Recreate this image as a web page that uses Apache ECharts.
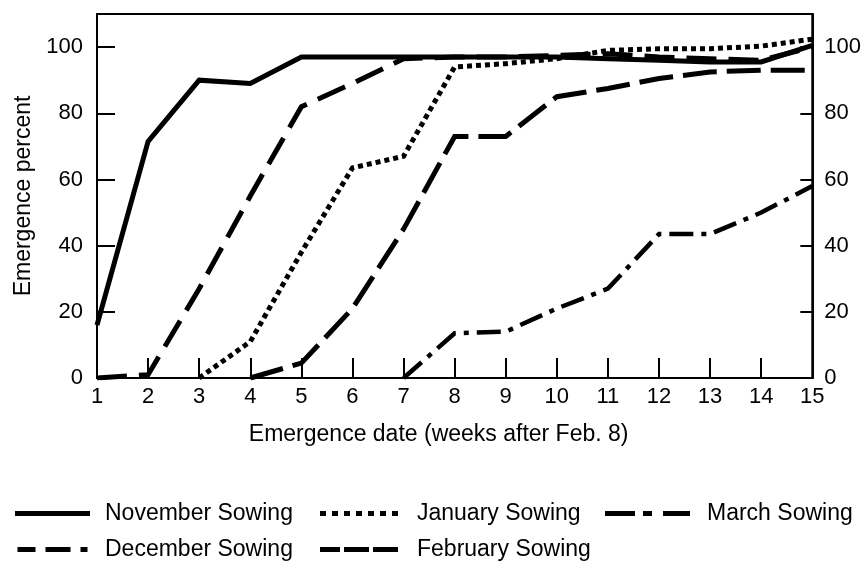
<!DOCTYPE html>
<html>
<head>
<meta charset="utf-8">
<script src="https://cdn.jsdelivr.net/npm/echarts@6/dist/echarts.min.js"></script>
<style>
html, body { margin: 0; padding: 0; background: #fff; }
#chart { width: 864px; height: 561px; }
</style>
</head>
<body>
<div id="chart"></div>
<script>
// weeks after Feb. 8
var weeks = [1, 2, 3, 4, 5, 6, 7, 8, 9, 10, 11, 12, 13, 14, 15];
var yTicks = [0, 20, 40, 60, 80, 100];

// emergence percent per sowing date (null = not yet sown)
var november = [16, 71.5, 90, 89, 97, 97, 97, 97, 97, 97, 96.5, 96, 95.5, 95.5, 100.5];
var december = [0, 1, 27, 55, 82, 89, 96.5, 97, 97, 97.5, 98, 97, 96.5, 96, 100];
var january = [null, null, 0, 11, 38, 63.5, 67, 94, 95, 96.5, 99, 99.5, 99.5, 100.3, 102.4];
var february = [null, null, null, 0, 4.5, 21, 45, 73, 73, 85, 87.5, 90.5, 92.5, 93, 93];
var march = [null, null, null, null, null, null, 0, 13.5, 14, 21, 27, 43.5, 43.5, 50, 58];

function pairs(vals) {
	var out = [];
	for (var i = 0; i < weeks.length; i++) {
		if (vals[i] != null) out.push([weeks[i], vals[i]]);
	}
	return out;
}

var font = 'Liberation Sans, Arial, Helvetica, sans-serif';

function mkSeries(name, vals, width, type) {
	return {
		name: name,
		type: 'line',
		symbol: 'none',
		data: pairs(vals),
		lineStyle: {
			color: '#000',
			width: width,
			type: type,
			cap: 'butt',
			join: 'miter'
		},
		itemStyle: { color: '#000' },
		z: 3
	};
}

// legend swatches drawn like the printed key
var icons = {
	'November Sowing': 'path://M0,0H75V5H0Z',
	'December Sowing': 'path://M0,0H18V5H0Z M28,0H53V5H28Z M63,0H70V5H63Z',
	'January Sowing': 'path://M0,0H6V5H0Z M12,0H18V5H12Z M24,0H30V5H24Z M36,0H42V5H36Z M48,0H54V5H48Z M60,0H66V5H60Z M72,0H78V5H72Z',
	'February Sowing': 'path://M0,0H20V5H0Z M24,0H49V5H24Z M53,0H78V5H53Z',
	'March Sowing': 'path://M0,0H30V5H0Z M38,0H47V5H38Z M58,0H85V5H58Z'
};

function mkLegend(left, names, iw, gap) {
	var items = [];
	for (var i = 0; i < names.length; i++) {
		items.push({ name: names[i], icon: icons[names[i]] });
	}
	return {
		left: left,
		top: 497,
		height: 100,
		orient: 'vertical',
		itemGap: 13,
		itemWidth: iw,
		itemHeight: 5,
		itemStyle: { color: '#000', borderWidth: 0 },
		data: items,
		textStyle: {
			fontFamily: font,
			fontSize: 23,
			color: '#000',
			padding: [0, 0, 0, gap]
		}
	};
}

var chart = echarts.init(document.getElementById('chart'), null, { renderer: 'canvas' });

var option = {
	backgroundColor: '#fff',
	animation: false,
	grid: {
		left: 97,
		right: 49,
		top: 14,
		bottom: 183,
		show: true,
		borderColor: '#000',
		borderWidth: 2
	},
	legend: [
		mkLegend(10, ['November Sowing', 'December Sowing'], 75, 10),
		mkLegend(315, ['January Sowing', 'February Sowing'], 78, 14),
		mkLegend(600, ['March Sowing'], 85, 12)
	],
	xAxis: {
		type: 'value',
		min: 1,
		max: 15,
		interval: 1,
		name: 'Emergence date (weeks after Feb. 8)',
		nameLocation: 'middle',
		nameGap: 45,
		nameTextStyle: { fontFamily: font, fontSize: 23, color: '#000', padding: [0, 32, 0, 0] },
		axisLine: { lineStyle: { color: '#000', width: 2 } },
		axisTick: { inside: true, length: 20, lineStyle: { color: '#000', width: 2 } },
		axisLabel: { fontFamily: font, fontSize: 22, color: '#000', margin: 8 },
		splitLine: { show: false }
	},
	yAxis: [{
		type: 'value',
		min: 0,
		max: 110,
		position: 'left',
		name: 'Emergence percent',
		nameLocation: 'middle',
		nameGap: 62,
		nameTextStyle: { fontFamily: font, fontSize: 23, color: '#000' },
		axisLine: { show: true, lineStyle: { color: '#000', width: 2 } },
		axisTick: { show: true, inside: true, length: 18, customValues: yTicks, lineStyle: { color: '#000', width: 2 } },
		axisLabel: { fontFamily: font, fontSize: 22, color: '#000', margin: 14, customValues: yTicks },
		splitLine: { show: false }
	}, {
		type: 'value',
		min: 0,
		max: 110,
		position: 'right',
		axisLine: { show: true, lineStyle: { color: '#000', width: 2 } },
		axisTick: { show: true, inside: true, length: 12, customValues: yTicks, lineStyle: { color: '#000', width: 2 } },
		axisLabel: { fontFamily: font, fontSize: 22, color: '#000', margin: 12, customValues: yTicks },
		splitLine: { show: false }
	}],
	series: [
		mkSeries('November Sowing', november, 5, 'solid'),
		mkSeries('December Sowing', december, 5, [30, 12]),
		mkSeries('January Sowing', january, 5, [5, 4]),
		mkSeries('February Sowing', february, 5, [34, 10]),
		mkSeries('March Sowing', march, 4.5, [24, 8, 5, 8])
	]
};

if (option && typeof option === "object") {
	chart.setOption(option, true);
}
</script>
</body>
</html>
